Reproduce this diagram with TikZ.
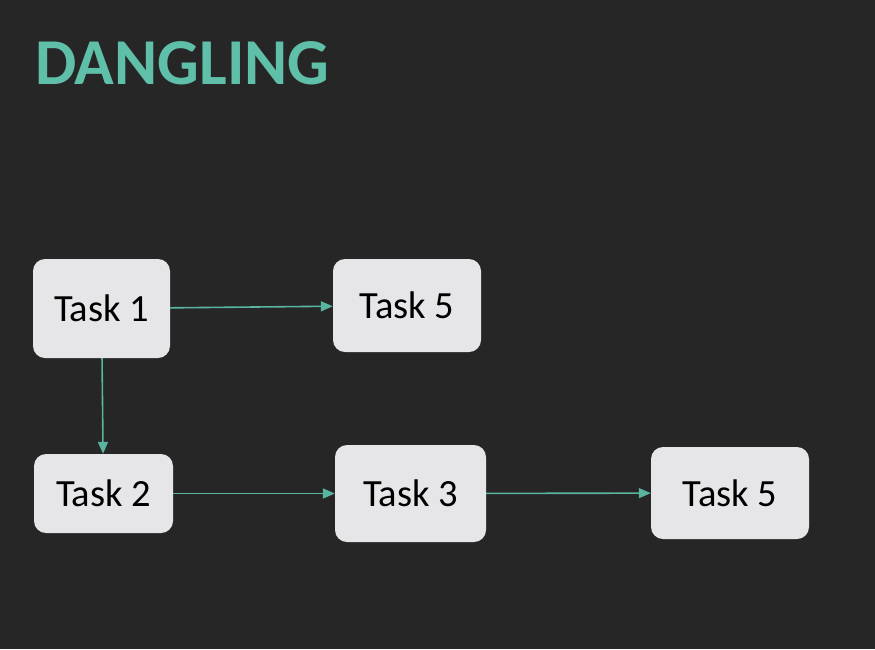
\documentclass[tikz,border=0pt]{standalone}
\usepackage{fontspec}
\setmainfont{Carlito}
\usetikzlibrary{arrows.meta}
\definecolor{bg}{HTML}{262626}
\definecolor{teal}{HTML}{5FBFA8}
\definecolor{boxfill}{HTML}{E6E6E8}
\definecolor{arrowc}{HTML}{5AB5A0}
\begin{document}
\begin{tikzpicture}[x=1pt,y=-1pt,
  taskbox/.style={fill=boxfill, draw=none, rounded corners=12pt, inner sep=0pt,
    font=\fontsize{38.5}{44}\selectfont, text=black},
  conn/.style={draw=arrowc, line width=1.6pt, -{Triangle[length=12pt,width=10pt]}}]
\fill[bg] (0,0) rectangle (875,649);
\useasboundingbox (0,0) rectangle (875,649);
\node[anchor=base west, text=teal, font=\fontsize{65.5}{70}\selectfont\bfseries, inner sep=0pt] (title) at (35,84) {DANGLING};
\node[taskbox, minimum width=137pt, minimum height=99pt] (t1) at (101.5,308.5) {Task 1};
\node[taskbox, minimum width=148pt, minimum height=93pt] (t5a) at (407,305.5) {Task 5};
\node[taskbox, minimum width=139pt, minimum height=79pt] (t2) at (103.5,493.5) {Task 2};
\node[taskbox, minimum width=151pt, minimum height=97pt] (t3) at (410.5,493.5) {Task 3};
\node[taskbox, minimum width=158pt, minimum height=92pt] (t5b) at (730,493) {Task 5};
\draw[conn] (t1) -- (t5a);
\draw[conn] (t1) -- (t2);
\draw[conn] (t2) -- (t3);
\draw[conn] (t3) -- (t5b);
\end{tikzpicture}
\end{document}
